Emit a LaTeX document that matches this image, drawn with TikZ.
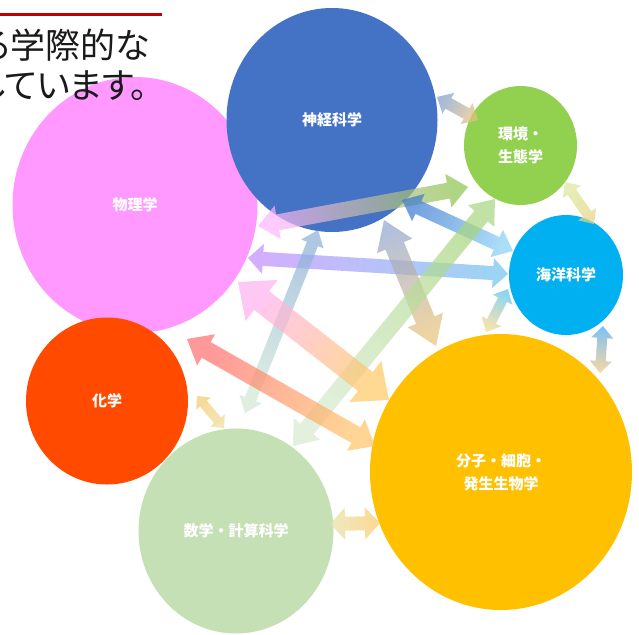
\documentclass[tikz,border=0pt]{standalone}
\usepackage{fontspec}
\setmainfont{Noto Sans CJK JP}
\newfontfamily\topfont[RawFeature=+palt]{Noto Sans CJK JP}
\usetikzlibrary{calc,shapes.geometric}

\definecolor{physc}{HTML}{FF99FF}
\definecolor{neuroc}{HTML}{4472C4}
\definecolor{envc}{HTML}{92D050}
\definecolor{oceanc}{HTML}{00B0F0}
\definecolor{chemc}{HTML}{FF4A00}
\definecolor{mathc}{HTML}{C5E0B4}
\definecolor{bioc}{HTML}{FFC000}
\definecolor{redline}{HTML}{C00000}
\definecolor{toptext}{HTML}{1A1A1A}

\newdimen\fatdx
\newdimen\fatdy
% #1 from, #2 to, #3 half shaft, #4 half head, #5 head length, #6 colour at #1, #7 colour at #2 (HTML)
\newcommand{\fatarrow}[7]{%
  \definecolor{fatA}{HTML}{#6}%
  \definecolor{fatB}{HTML}{#7}%
  \pgfextractx{\fatdx}{\pgfpointdiff{\pgfpointanchor{#1}{center}}{\pgfpointanchor{#2}{center}}}%
  \pgfextracty{\fatdy}{\pgfpointdiff{\pgfpointanchor{#1}{center}}{\pgfpointanchor{#2}{center}}}%
  \pgfmathsetmacro\fatang{atan2(\fatdy,\fatdx)+90}%
  \shade[top color=fatA, bottom color=fatB, shading angle=\fatang, fill opacity=0.7]
    (#1)
    -- ($(#1)!#5!(#2)!#4!90:(#2)$)
    -- ($(#1)!#5!(#2)!#3!90:(#2)$)
    -- ($(#2)!#5!(#1)!#3!-90:(#1)$)
    -- ($(#2)!#5!(#1)!#4!-90:(#1)$)
    -- (#2)
    -- ($(#2)!#5!(#1)!#4!90:(#1)$)
    -- ($(#2)!#5!(#1)!#3!90:(#1)$)
    -- ($(#1)!#5!(#2)!#3!-90:(#2)$)
    -- ($(#1)!#5!(#2)!#4!-90:(#2)$)
    -- cycle;%
}

\begin{document}
\begin{tikzpicture}[x=1pt,y=-1pt,
  disc/.style={ellipse, inner sep=0pt, text=white, align=center,
    font=\bfseries\fontsize{15}{23}\selectfont},
  toplabel/.style={anchor=base east, inner sep=0pt, text=toptext,
    font=\topfont\fontsize{35}{40}\selectfont}]
\useasboundingbox (0,0) rectangle (639,634);
\clip (0,0) rectangle (639,634);
\fill[white] (0,0) rectangle (639,634);

% discs
\node[disc, fill=physc, minimum width=245pt, minimum height=256pt] (phys) at (135,205) {物理学};
\node[disc, fill=neuroc, minimum width=211pt, minimum height=224pt] (neuro) at (332,120) {神経科学};
\node[disc, fill=envc, minimum width=113pt, minimum height=119pt] (env) at (520.5,145.5) {環境・\\生態学};
\node[disc, fill=oceanc, minimum width=114pt, minimum height=120pt] (ocean) at (566,275) {海洋科学};
\node[disc, fill=chemc, minimum width=162pt, minimum height=167pt] (chem) at (107,401) {化学};
\node[disc, fill=mathc, minimum width=195pt, minimum height=205pt] (math) at (236,531) {数学・計算科学};
\node[disc, fill=bioc, minimum width=262pt, minimum height=276pt] (bio) at (501,472) {分子・細胞・\\発生生物学};

% heading fragment (drawn over the discs)
\draw[redline, line width=3pt] (0,15) -- (162,15);
\node[toplabel] (t1) at (150,59) {る学際的な};
\node[toplabel] (t2) at (148,98) {しています。};

% arrow ends
\coordinate (neuro-env) at (437,97);   \coordinate (env-neuro) at (478,120);
\coordinate (phys-env) at (258,226);   \coordinate (env-phys) at (468,187);
\coordinate (neuro-ocean) at (402,200);\coordinate (ocean-neuro) at (513,251);
\coordinate (phys-ocean) at (248,258); \coordinate (ocean-phys) at (508,274);
\coordinate (neuro-bio) at (384,220);  \coordinate (bio-neuro) at (436,346);
\coordinate (neuro-math) at (318,230); \coordinate (math-neuro) at (245,413);
\coordinate (env-math) at (495,199);   \coordinate (math-env) at (293,446);
\coordinate (phys-bio) at (238,282);   \coordinate (bio-phys) at (389,400);
\coordinate (chem-bio) at (187,339);   \coordinate (bio-chem) at (375,446);
\coordinate (chem-math) at (197,396);  \coordinate (math-chem) at (224,428);
\coordinate (math-bio) at (330,524);   \coordinate (bio-math) at (380,523);
\coordinate (ocean-bio) at (508,289);  \coordinate (bio-ocean) at (486,332);
\coordinate (ocean-bio2) at (603,326); \coordinate (bio-ocean2) at (600,373);
\coordinate (env-ocean) at (565,182);  \coordinate (ocean-env) at (594,224);

% arrows
\fatarrow{neuro-env}{env-neuro}{6pt}{12pt}{13pt}{7E9CCC}{E6C27C}
\fatarrow{phys-env}{env-phys}{8pt}{17pt}{20pt}{FFB4FF}{8CC44C}
\fatarrow{neuro-ocean}{ocean-neuro}{7pt}{15pt}{18pt}{3A78D2}{88D0F5}
\fatarrow{phys-ocean}{ocean-phys}{7pt}{15pt}{15pt}{C28CFF}{70C4F0}
\fatarrow{neuro-bio}{bio-neuro}{10pt}{19pt}{28pt}{94A6CC}{E8C27A}
\fatarrow{neuro-math}{math-neuro}{6pt}{12pt}{15pt}{8CB0D8}{D2E8D4}
\fatarrow{env-math}{math-env}{8.5pt}{17pt}{22pt}{A8D67E}{D6EBCF}
\fatarrow{phys-bio}{bio-phys}{12pt}{26pt}{30pt}{FFB0EE}{FFC864}
\fatarrow{chem-bio}{bio-chem}{9pt}{18pt}{22pt}{FF6E6E}{FFC468}
\fatarrow{chem-math}{math-chem}{4.5pt}{9.5pt}{10pt}{F2CC6C}{F0DA96}
\fatarrow{math-bio}{bio-math}{7pt}{16pt}{15pt}{E6E2A8}{FDC865}
\fatarrow{ocean-bio}{bio-ocean}{5pt}{11pt}{12pt}{5EC4EC}{F2D88C}
\fatarrow{ocean-bio2}{bio-ocean2}{5pt}{11pt}{12pt}{48A8F0}{F2C87C}
\fatarrow{env-ocean}{ocean-env}{5pt}{11pt}{12pt}{DCE89A}{E6D484}
\end{tikzpicture}
\end{document}
